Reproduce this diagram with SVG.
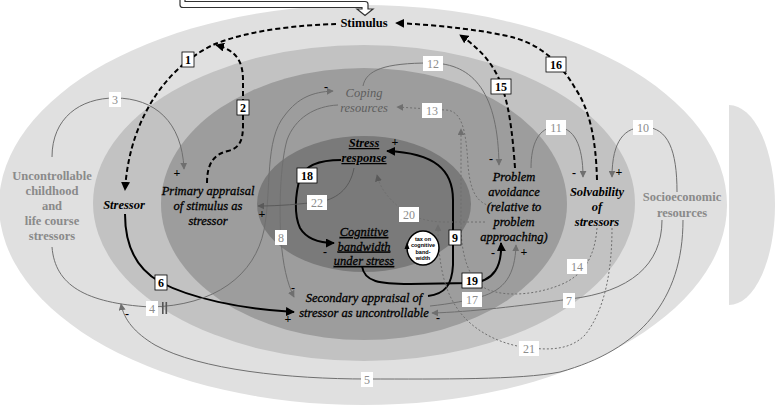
<svg xmlns="http://www.w3.org/2000/svg" width="775" height="410" viewBox="0 0 775 410" font-family="'Liberation Serif', 'Times New Roman', serif">
<style>
text{font-family:'Liberation Serif','DejaVu Serif','Times New Roman',serif;font-size:12.5px}
.m{text-anchor:middle}
.b{font-weight:bold}
.i{font-style:italic}
.u{text-decoration:underline}
.k{stroke:#000;stroke-width:0.3}
.gt{fill:#8a8a8a;font-weight:bold}
.blk{fill:none;stroke:#000;stroke-width:2}
.dash{fill:none;stroke:#000;stroke-width:2;stroke-dasharray:5,3}
.gry{fill:none;stroke:#6f6f6f;stroke-width:1}
.drk{fill:none;stroke:#5a5a5a;stroke-width:1}
.dot{fill:none;stroke:#6f6f6f;stroke-width:1;stroke-dasharray:2,2}
.lb rect{fill:#fff;stroke:#000;stroke-width:0.8}
.lb text{font-weight:bold;text-anchor:middle;font-size:12px}
.lg rect{fill:#fff;stroke:none}
.lg text{fill:#8c8c8c;text-anchor:middle;font-size:12px}
.sg{font-size:12px;font-weight:bold;text-anchor:middle;fill:#000}
.tx{font-family:'Liberation Sans',Arial,sans-serif;font-size:5.5px;font-weight:bold;text-anchor:middle}
</style>
<defs>
<marker id="ab" viewBox="0 0 10 10" refX="9" refY="5" markerWidth="9" markerHeight="9" markerUnits="userSpaceOnUse" orient="auto"><path d="M0,0L10,5L0,10z" fill="#000"/></marker>
<marker id="ag" viewBox="0 0 10 10" refX="9" refY="5" markerWidth="7" markerHeight="7" markerUnits="userSpaceOnUse" orient="auto"><path d="M0,0L10,5L0,10z" fill="#6f6f6f"/></marker>
<marker id="ad" viewBox="0 0 10 10" refX="9" refY="5" markerWidth="7" markerHeight="7" markerUnits="userSpaceOnUse" orient="auto"><path d="M0,0L10,5L0,10z" fill="#5a5a5a"/></marker>
</defs>
<g id="background">
<ellipse cx="363" cy="205" rx="364" ry="200" fill="#e0e0e0"/>
<path d="M729,105 A46,100 0 0 1 729,305 Z" fill="#e0e0e0"/>
<ellipse cx="364" cy="203" rx="271" ry="158" fill="#c2c2c2"/>
<ellipse cx="364" cy="204" rx="203" ry="136" fill="#9d9d9d"/>
<ellipse cx="364" cy="204" rx="107" ry="68" fill="#7a7a7a"/>
<path d="M180,-1 V5 Q180,7.5 183,7.5 H362 V9 H357 L365,15.5 L373,9 H368 V4 Q368,1.5 365,1.5 H185 V-1" fill="#fff" stroke="#333" stroke-width="1.2"/>
</g>
<g id="connectors">
<path class="dash" d="M336,24 C300,25 250,30 215,44 C175,62 130,110 125,190" marker-end="url(#ab)"/>
<path class="dash" d="M207,183 C207,162 215,154 228,151 C240,148 243,140 243,125 L243,80 C243,60 235,50 216,45" marker-end="url(#ab)"/>
<path class="dash" d="M515,168 C513,140 510,110 503,90 C497,70 485,52 460,35" marker-end="url(#ab)"/>
<path class="dash" d="M597,180 C596,140 590,110 575,88 C560,62 540,45 515,38 C490,31 440,25 396,23" marker-end="url(#ab)"/>
<path class="blk" d="M125,214 C125,245 135,268 160,282 C190,298 240,309 294,312" marker-end="url(#ab)"/>
<path class="blk" d="M341,160 C320,160 305,165 300,178 C295,195 294,215 300,228 C306,238 318,243 334,243" marker-end="url(#ab)"/>
<path class="blk" d="M428,296 C445,294 452,285 453,265 L453,200 C453,170 435,153 387,151" marker-end="url(#ab)"/>
<path class="blk" d="M362,266 C364,282 380,284 410,284 L470,283 C495,282 502,265 501,243" marker-end="url(#ab)"/>
<path class="gry" d="M52,157 C52,118 80,98 115,98 C155,98 182,122 184,169" marker-end="url(#ag)"/>
<path class="gry" d="M52,247 C55,285 85,303 150,307 C215,306 255,275 264,230 C272,190 264,140 285,115 C298,98 312,92 333,91" marker-end="url(#ag)"/>
<path class="gry" d="M683,220 C683,300 640,350 560,372 C520,380 440,379 367,379 C290,379 200,370 155,345 C135,333 124,320 121,304" marker-end="url(#ag)"/>
<path class="gry" d="M662,220 C662,265 630,292 570,299 C520,306 470,312 432,313" marker-end="url(#ag)"/>
<path class="gry" d="M338,105 C315,106 295,118 287,140 C280,165 279,210 281,240 C283,265 287,283 294,297" marker-end="url(#ag)"/>
<path class="gry" d="M677,192 C677,150 668,128 645,127 C625,127 612,140 612,177" marker-end="url(#ag)"/>
<path class="gry" d="M531,168 C531,145 538,127 556,127 C574,127 583,145 583,177" marker-end="url(#ag)"/>
<path class="gry" d="M363,86 C366,70 385,63 430,63 C475,63 498,95 499,165" marker-end="url(#ag)"/>
<path class="gry" d="M430,306 C450,304 470,300 480,297 C505,290 515,275 516,245" marker-end="url(#ag)"/>
<path class="drk" d="M354,168 C350,190 335,200 318,202 C300,204 280,206 258,206" marker-end="url(#ad)"/>
<path class="dot" d="M490,206 C476,202 470,190 468,165 C466,130 462,110 445,110 L397,107" marker-end="url(#ag)"/>
<path class="dot" d="M597,228 C595,255 585,275 560,285 C530,297 495,297 480,285 C468,275 462,255 461,230 L461,129" marker-end="url(#ag)"/>
<path class="dot" d="M612,228 C612,270 605,310 585,335 C570,350 550,350 530,348 C500,345 470,330 455,305 C442,285 438,255 438,225" marker-end="url(#ag)"/>
<path class="dot" d="M485,222 L445,222 C425,222 410,216 400,208 C388,198 380,188 377,175" marker-end="url(#ad)"/>
</g>
<g id="signs">
<text class="sg" x="177" y="177">+</text>
<text class="sg" x="262" y="218">+</text>
<text class="sg" x="326" y="91">-</text>
<text class="sg" x="293" y="292">-</text>
<text class="sg" x="288" y="323">+</text>
<text class="sg" x="127" y="318">-</text>
<text class="sg" x="491" y="163">-</text>
<text class="sg" x="574" y="177">-</text>
<text class="sg" x="619" y="176">+</text>
<text class="sg" x="395" y="146">+</text>
<text class="sg" x="325" y="256">-</text>
<text class="sg" x="493" y="257">-</text>
<text class="sg" x="524" y="256">+</text>
<text class="sg" x="438" y="322">-</text>
<rect x="162" y="302" width="1.6" height="12" fill="#555"/>
<rect x="165.5" y="302" width="1.6" height="12" fill="#555"/>
</g>
<g id="label-1" class="lb"><rect x="182" y="52" width="12" height="15"/><text x="188" y="64">1</text></g>
<g id="label-2" class="lb"><rect x="237" y="100" width="12" height="15"/><text x="243" y="112">2</text></g>
<g id="label-6" class="lb"><rect x="155" y="275" width="12" height="15"/><text x="161" y="287">6</text></g>
<g id="label-9" class="lb"><rect x="449" y="230" width="12" height="15"/><text x="455" y="242">9</text></g>
<g id="label-15" class="lb"><rect x="491" y="79" width="20" height="15"/><text x="501" y="91">15</text></g>
<g id="label-16" class="lb"><rect x="546" y="57" width="20" height="15"/><text x="556" y="69">16</text></g>
<g id="label-18" class="lb"><rect x="297" y="168" width="20" height="15"/><text x="307" y="180">18</text></g>
<g id="label-19" class="lb"><rect x="462" y="273" width="20" height="15"/><text x="472" y="285">19</text></g>
<g id="label-3" class="lg"><rect x="109" y="92" width="12" height="15"/><text x="115" y="104">3</text></g>
<g id="label-4" class="lg"><rect x="146" y="301" width="12" height="15"/><text x="152" y="313">4</text></g>
<g id="label-5" class="lg"><rect x="361" y="372" width="12" height="15"/><text x="367" y="384">5</text></g>
<g id="label-7" class="lg"><rect x="563" y="293" width="12" height="15"/><text x="569" y="305">7</text></g>
<g id="label-8" class="lg"><rect x="275" y="230" width="12" height="15"/><text x="281" y="242">8</text></g>
<g id="label-10" class="lg"><rect x="633" y="120" width="20" height="15"/><text x="643" y="132">10</text></g>
<g id="label-11" class="lg"><rect x="546" y="120" width="20" height="15"/><text x="556" y="132">11</text></g>
<g id="label-12" class="lg"><rect x="423" y="56" width="20" height="15"/><text x="433" y="68">12</text></g>
<g id="label-13" class="lg"><rect x="422" y="103" width="20" height="15"/><text x="432" y="115">13</text></g>
<g id="label-14" class="lg"><rect x="567" y="259" width="20" height="15"/><text x="577" y="271">14</text></g>
<g id="label-17" class="lg"><rect x="462" y="292" width="20" height="15"/><text x="472" y="304">17</text></g>
<g id="label-20" class="lg"><rect x="399" y="207" width="20" height="15"/><text x="409" y="219">20</text></g>
<g id="label-21" class="lg"><rect x="519" y="341" width="20" height="15"/><text x="529" y="353">21</text></g>
<g id="label-22" class="lg"><rect x="307" y="195" width="20" height="15"/><text x="317" y="207">22</text></g>
<g id="node-stimulus"><text class="m b" x="364" y="27">Stimulus</text></g>
<g id="node-stressor"><text class="m b i" x="124" y="209">Stressor</text></g>
<g id="node-primary"><text class="m i k" x="208" y="195">Primary appraisal</text><text class="m i k" x="208" y="210">of stimulus as</text><text class="m i k" x="208" y="225">stressor</text></g>
<g id="node-coping"><text class="m i" x="364" y="97" fill="#5e5e5e">Coping</text><text class="m i" x="364" y="112" fill="#5e5e5e">resources</text></g>
<g id="node-stress-response"><text class="m b i u" x="364" y="147">Stress</text><text class="m b i u" x="364" y="162">response</text></g>
<g id="node-cognitive"><text class="m i u k" x="364" y="236">Cognitive</text><text class="m i u k" x="364" y="250.5">bandwidth</text><text class="m i u k" x="364" y="265">under stress</text></g>
<g id="node-tax">
<ellipse cx="423" cy="248" rx="16" ry="17" fill="#fff" stroke="#000" stroke-width="1.5"/>
<path d="M404.5,249 L407,242 L409.5,249 z" fill="#000"/>
<text class="tx" x="423" y="240.5">tax on</text>
<text class="tx" x="423" y="247">cognitive</text>
<text class="tx" x="423" y="253.5">band-</text>
<text class="tx" x="423" y="260">width</text>
</g>
<g id="node-secondary"><text class="m i k" x="364" y="302">Secondary appraisal of</text><text class="m i k" x="364" y="317">stressor as uncontrollable</text></g>
<g id="node-avoidance"><text class="m i k" x="514" y="181">Problem</text><text class="m i k" x="514" y="196">avoidance</text><text class="m i k" x="514" y="211">(relative to</text><text class="m i k" x="514" y="226">problem</text><text class="m i k" x="514" y="241">approaching)</text></g>
<g id="node-solvability"><text class="m b i" x="597" y="196">Solvability</text><text class="m b i" x="597" y="211">of</text><text class="m b i" x="597" y="226">stressors</text></g>
<g id="node-socioeconomic"><text class="m gt" x="682" y="201">Socioeconomic</text><text class="m gt" x="682" y="217">resources</text></g>
<g id="node-uncontrollable"><text class="m gt" x="52" y="180">Uncontrollable</text><text class="m gt" x="52" y="195">childhood</text><text class="m gt" x="52" y="210">and</text><text class="m gt" x="52" y="225">life course</text><text class="m gt" x="52" y="240">stressors</text></g>
</svg>
